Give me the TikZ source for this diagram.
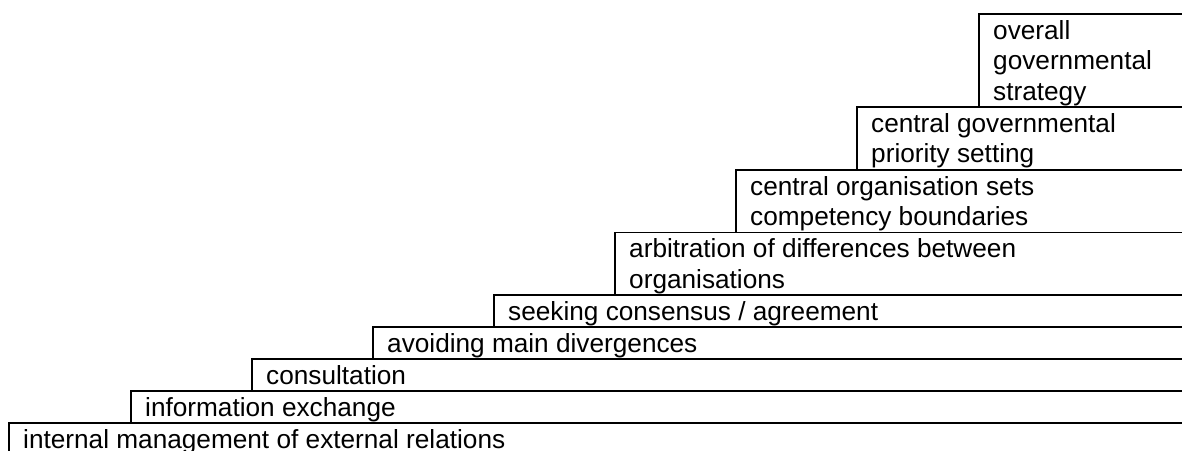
\documentclass[tikz,border=0pt]{standalone}
\usepackage{fontspec}
\setmainfont{Liberation Sans}
\begin{document}
\begin{tikzpicture}[x=1pt,y=-1pt,
  stepbox/.style={draw=black,line width=1.8pt,fill=white},
  steptext/.style={anchor=base west,inner sep=0pt,align=left,
    font=\fontsize{26.2}{30.5}\selectfont}]
\useasboundingbox (0,0) rectangle (1182,450);
\clip (0,0) rectangle (1182,450);
% staircase of boxes, from the top step down; each lower box overlaps the one above
\foreach \l/\t in {979/14,857/107,736/170,615/232.5,494/295,373/327,252/359,131/391,9/423}
  \draw[stepbox] (\l,\t) rectangle (1200,480);
% labels are placed by the baseline of their last line
\node[steptext] (s9) at (993,100) {overall\\governmental\\strategy};
\node[steptext] (s8) at (871,162.5) {central governmental\\priority setting};
\node[steptext] (s7) at (750,225.5) {central organisation sets\\competency boundaries};
\node[steptext] (s6) at (629,288) {arbitration of differences between\\organisations};
\node[steptext] (s5) at (508,320) {seeking consensus / agreement};
\node[steptext] (s4) at (387,352) {avoiding main divergences};
\node[steptext] (s3) at (266,384) {consultation};
\node[steptext] (s2) at (145,416) {information exchange};
\node[steptext] (s1) at (23,448) {internal management of external relations};
\end{tikzpicture}
\end{document}
